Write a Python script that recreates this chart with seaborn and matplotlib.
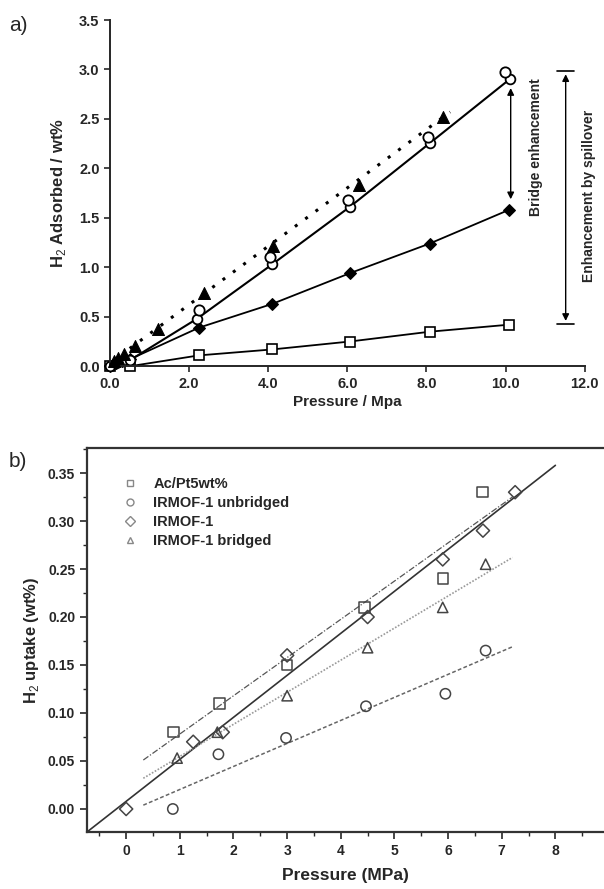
import matplotlib
matplotlib.use("Agg")
import matplotlib.pyplot as plt
import numpy as np
import seaborn as sns

# ---- panel a) data (read off the picture) ----
sq_p = [0.0, 0.5, 2.25, 4.1, 6.06, 8.1, 10.08]
sq_w = [0.0, 0.0, 0.11, 0.17, 0.25, 0.35, 0.42]

dia_p = [0.0, 0.15, 0.3, 0.5, 2.25, 4.1, 6.06, 8.08, 10.08]
dia_w = [0.0, 0.03, 0.05, 0.07, 0.39, 0.63, 0.94, 1.24, 1.58]

circ_p = [0.0, 0.15, 0.3, 0.5, 2.2, 4.1, 6.06, 8.1, 10.1]
circ_w = [0.0, 0.03, 0.05, 0.06, 0.48, 1.03, 1.61, 2.26, 2.90]
circ2_p = [2.25, 4.05, 6.02, 8.05, 9.98]
circ2_w = [0.57, 1.10, 1.68, 2.32, 2.97]

tri_p = [0.1, 0.2, 0.35, 0.63, 1.22, 2.37, 4.12, 6.29, 8.43]
tri_w = [0.05, 0.08, 0.12, 0.2, 0.38, 0.74, 1.22, 1.83, 2.52]
tri_fit_p = [0.5, 8.6]
tri_fit_w = [0.18, 2.57]

bridge_x, bridge_top, bridge_bot = 10.13, 2.84, 1.66
spill_x, spill_top, spill_bot = 11.52, 2.98, 0.43

# ---- panel b) data ----
ac_p = [0.88, 1.74, 3.0, 4.44, 5.9, 6.64]
ac_u = [0.080, 0.110, 0.150, 0.210, 0.240, 0.330]
unb_p = [0.87, 1.72, 2.98, 4.47, 5.95, 6.7]
unb_u = [0.0, 0.057, 0.074, 0.107, 0.120, 0.165]
irm_p = [0.0, 1.25, 1.8, 3.0, 4.5, 5.9, 6.65, 7.25]
irm_u = [0.0, 0.070, 0.080, 0.160, 0.200, 0.260, 0.290, 0.330]
brg_p = [0.95, 1.7, 3.0, 4.5, 5.9, 6.7]
brg_u = [0.053, 0.080, 0.118, 0.168, 0.210, 0.255]

# fitted lines (end points)
irm_fit_p, irm_fit_u = [-0.73, 8.0], [-0.024, 0.358]
ac_fit_p, ac_fit_u = [0.32, 7.2], [0.051, 0.325]
brg_fit_p, brg_fit_u = [0.32, 7.2], [0.032, 0.262]
unb_fit_p, unb_fit_u = [0.32, 7.2], [0.004, 0.169]

legend_labels = ["Ac/Pt5wt%", "IRMOF-1 unbridged", "IRMOF-1", "IRMOF-1 bridged"]
b_tick_labels = ["0", "1", "2", "3", "4", "5", "6", "7", "8", ""]

sns.set_style("ticks")
plt.rcParams["font.family"] = ["Liberation Sans", "DejaVu Sans"]
plt.rcParams["mathtext.fontset"] = "custom"
plt.rcParams["mathtext.rm"] = "Liberation Sans"
plt.rcParams["mathtext.bf"] = "Liberation Sans:bold"

fig = plt.figure(figsize=(6.04, 8.89), dpi=100)

# ================= panel a =================
ax1 = fig.add_axes([0.182, 0.588, 0.786, 0.3895])
k = "black"
sns.lineplot(x=sq_p, y=sq_w, ax=ax1, color=k, lw=1.3, marker="s", ms=7,
             mfc="white", mec=k, mew=1.2, clip_on=False)
sns.lineplot(x=dia_p, y=dia_w, ax=ax1, color=k, lw=1.3, marker="D", ms=6.5,
             mfc=k, mec=k, clip_on=False)
sns.lineplot(x=circ_p, y=circ_w, ax=ax1, color=k, lw=1.5, marker="o", ms=7,
             mfc="white", mec=k, mew=1.3, clip_on=False)
sns.scatterplot(x=circ2_p, y=circ2_w, ax=ax1, marker="o", s=55,
                facecolor="white", edgecolor=k, linewidth=1.3, zorder=4, clip_on=False)
sns.lineplot(x=tri_fit_p, y=tri_fit_w, ax=ax1, color=k, lw=2.2, ls=(0, (1, 3.2)))
sns.scatterplot(x=tri_p, y=tri_w, ax=ax1, marker="^", s=75, color=k,
                edgecolor=k, zorder=5, clip_on=False)

ax1.annotate("", xy=(bridge_x, bridge_top), xytext=(bridge_x, bridge_bot),
             arrowprops=dict(arrowstyle="<|-|>", color=k, lw=1.0, mutation_scale=10))
ax1.annotate("", xy=(spill_x, spill_top), xytext=(spill_x, spill_bot),
             arrowprops=dict(arrowstyle="<|-|>", color=k, lw=1.0, mutation_scale=10))
ax1.plot([spill_x - 0.22, spill_x + 0.22], [spill_top, spill_top], color=k, lw=1.2)
ax1.plot([spill_x - 0.22, spill_x + 0.22], [spill_bot, spill_bot], color=k, lw=1.2)
ax1.text(10.78, 2.22, "Bridge enhancement", rotation=90, ha="center", va="center",
         fontsize=10, fontweight="bold")
ax1.text(12.1, 1.72, "Enhancement by spillover", rotation=90, ha="center", va="center",
         fontsize=10, fontweight="bold", clip_on=False)

ax1.set_xlim(0, 12)
ax1.set_ylim(0, 3.5)
ax1.set_xticks(np.arange(0, 12.1, 2.0))
ax1.set_yticks(np.arange(0, 3.51, 0.5))
ax1.xaxis.set_major_formatter(matplotlib.ticker.FormatStrFormatter("%.1f"))
ax1.yaxis.set_major_formatter(matplotlib.ticker.FormatStrFormatter("%.1f"))
ax1.tick_params(direction="out", length=4, width=1.2, labelsize=10.5)
for t in ax1.get_xticklabels() + ax1.get_yticklabels():
    t.set_fontweight("bold")
sns.despine(ax=ax1)
for s in ["left", "bottom"]:
    ax1.spines[s].set_linewidth(1.4)
ax1.set_xlabel("Pressure / Mpa", fontsize=11, fontweight="bold", labelpad=3)
ax1.set_ylabel("H$_2$ Adsorbed / wt%", fontsize=12, fontweight="bold", labelpad=8)
fig.text(0.015, 0.965, "a)", fontsize=15)

# ================= panel b =================
ax2 = fig.add_axes([0.144, 0.0641, 0.891, 0.4319])
g = "#444444"
sns.lineplot(x=irm_fit_p, y=irm_fit_u, ax=ax2, color="#333333", lw=1.2)
sns.lineplot(x=ac_fit_p, y=ac_fit_u, ax=ax2, color="#555555", lw=0.9, ls=(0, (5, 1.5, 1, 1.5)))
sns.lineplot(x=brg_fit_p, y=brg_fit_u, ax=ax2, color="#999999", lw=1.2, ls=(0, (1, 1)))
sns.lineplot(x=unb_fit_p, y=unb_fit_u, ax=ax2, color="#666666", lw=1.1, ls=(0, (2.5, 1.5)))

series_b = [(ac_p, ac_u, "s"), (unb_p, unb_u, "o"), (irm_p, irm_u, "D"), (brg_p, brg_u, "^")]
for (px, py, mk), lab in zip(series_b, legend_labels):
    sns.scatterplot(x=px, y=py, ax=ax2, marker=mk, s=55 if mk != "D" else 45,
                    facecolors="none", edgecolors=g, linewidth=1.1, zorder=5)
    ax2.plot([], [], ls="none", marker=mk, ms=5, mfc="none", mec="#888888", mew=1.0, label=lab)
leg = ax2.legend(loc="upper left", frameon=False, fontsize=10.5, handletextpad=0.6,
                 labelspacing=0.35, borderaxespad=0.0, bbox_to_anchor=(0.042, 0.94))
for t in leg.get_texts():
    t.set_fontweight("bold")

ax2.set_xlim(-0.73, 9.3)
ax2.set_ylim(-0.024, 0.376)
ax2.set_xticks(np.arange(0, 10, 1))
ax2.set_xticklabels(b_tick_labels)
ax2.set_yticks(np.arange(0, 0.351, 0.05))
ax2.xaxis.set_minor_locator(matplotlib.ticker.MultipleLocator(0.5))
ax2.yaxis.set_minor_locator(matplotlib.ticker.MultipleLocator(0.025))
ax2.yaxis.set_major_formatter(matplotlib.ticker.FormatStrFormatter("%.2f"))
ax2.tick_params(which="major", direction="out", length=5, width=1.2, labelsize=10)
ax2.tick_params(which="minor", direction="out", length=3, width=1.0)
ax2.tick_params(which="both", top=False, right=False)
for t in ax2.get_xticklabels() + ax2.get_yticklabels():
    t.set_fontweight("bold")
for s in ax2.spines.values():
    s.set_linewidth(1.6)
    s.set_color("#333333")
ax2.set_xlabel("Pressure (MPa)", fontsize=12.5, fontweight="bold")
ax2.xaxis.set_label_coords(0.48, -0.095)
ax2.set_ylabel("H$_2$ uptake (wt%)", fontsize=12, fontweight="bold", labelpad=5)
fig.text(0.015, 0.475, "b)", fontsize=15)

fig.savefig("out.png", dpi=100)
plt.close(fig)
